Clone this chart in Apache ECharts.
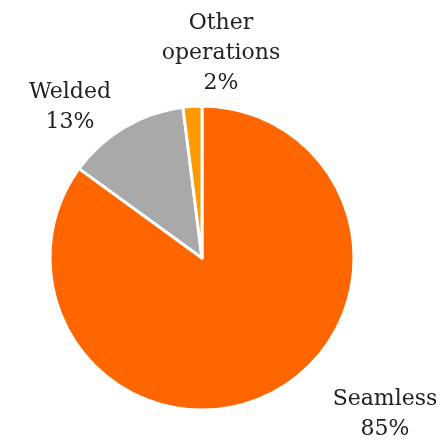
<!DOCTYPE html>
<html><head><meta charset="utf-8">
<script src="https://cdn.jsdelivr.net/npm/echarts@6/dist/echarts.min.js"></script>
<style>html,body{margin:0;padding:0;background:#fff}#c{width:443px;height:440px}</style>
</head><body><div id="c"></div>
<script>
const categories = ['Seamless', 'Welded', 'Other\noperations'];
const values = [85, 13, 2];
const colors = ['#FF6600', '#A9A9A9', '#FF9900'];
const labelPos = [[385, 414], [70, 107], [221, 53]];

const chart = echarts.init(document.getElementById('c'));
chart.setOption({
  animation: false,
  series: [{
    type: 'pie',
    center: [202, 258],
    radius: [0, 152],
    startAngle: 90,
    clockwise: true,
    data: categories.map((n, i) => ({name: n, value: values[i], itemStyle: {color: colors[i]}})),
    itemStyle: {borderColor: '#fff', borderWidth: 3},
    label: {
      show: true, position: 'outside',
      formatter: p => p.name + '\n' + p.value + '%',
      fontFamily: 'DejaVu Serif', fontSize: 22, lineHeight: 30,
      color: '#222', align: 'center', overflow: 'none', width: 200
    },
    labelLine: {show: false},
    labelLayout: p => ({x: labelPos[p.dataIndex][0], y: labelPos[p.dataIndex][1], align: 'center', verticalAlign: 'middle'})
  }]
});
</script></body></html>
